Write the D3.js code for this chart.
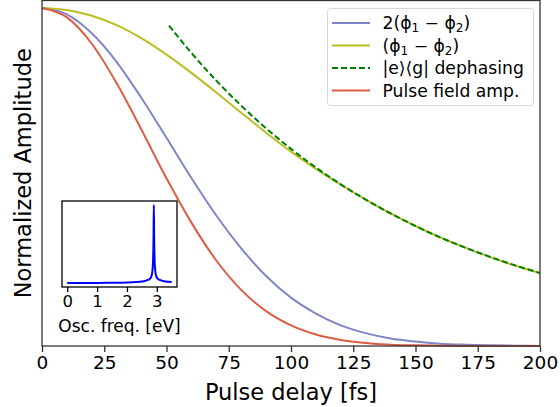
<!DOCTYPE html>
<html>
<head>
<meta charset="utf-8">
<script src="https://cdn.jsdelivr.net/npm/d3@7"></script>
<style>
  body { margin: 0; background: #fff; }
  svg { display: block; font-family: "DejaVu Sans", sans-serif; }
</style>
</head>
<body>
<div class="canvas"></div>
<script>
const canvasWidth = 560;
const canvasHeight = 407;
const margin = { top: 0.5, left: 42, bottom: 61, right: 20 };
const graphWidth = canvasWidth - margin.left - margin.right;
const graphHeight = canvasHeight - margin.top - margin.bottom;

// pulse delay grid [fs]
const delay = [0, 10, 20, 30, 40, 50, 60, 70, 80, 90, 100, 110, 120, 130, 140, 150, 160, 170, 180, 190, 200];
const phaseDouble = [1, 0.981, 0.925, 0.840, 0.733, 0.616, 0.497, 0.386, 0.289, 0.207, 0.143, 0.096, 0.061, 0.038, 0.022, 0.013, 0.007, 0.004, 0.002, 0.001, 0];
const phaseSingle = [1, 0.994, 0.977, 0.949, 0.910, 0.862, 0.808, 0.750, 0.690, 0.631, 0.575, 0.524, 0.477, 0.433, 0.392, 0.355, 0.321, 0.291, 0.263, 0.238, 0.2155];
const pulseAmp = [1, 0.972, 0.894, 0.777, 0.639, 0.496, 0.365, 0.253, 0.166, 0.103, 0.061, 0.034, 0.018, 0.009, 0.004, 0.002, 0.001, 0, 0, 0, 0];

// dephasing fit only drawn from ~51 fs
const dephDelay = [51, 60, 70, 80, 90, 100, 110, 120, 130, 140, 150, 160, 170, 180, 190, 200];
const dephasing = [0.948, 0.867, 0.785, 0.711, 0.644, 0.583, 0.528, 0.478, 0.433, 0.392, 0.355, 0.321, 0.291, 0.2635, 0.2385, 0.216];

const xTicks = [0, 25, 50, 75, 100, 125, 150, 175, 200];

// inset spectrum
const oscFreq = [0, 0.5, 1, 1.5, 2, 2.3, 2.5, 2.6, 2.7, 2.75, 2.8, 2.84, 2.87, 2.89, 2.9, 2.91, 2.93, 2.96, 3.0, 3.05, 3.1, 3.2, 3.3, 3.4, 3.5];
const spectrum = [0, 0.001, 0.002, 0.004, 0.008, 0.013, 0.02, 0.027, 0.04, 0.05, 0.07, 0.12, 0.25, 0.6, 1.0, 0.6, 0.25, 0.12, 0.07, 0.05, 0.04, 0.027, 0.02, 0.016, 0.013];
const freqTicks = [0, 1, 2, 3];

const legendNames = ['phaseDouble', 'phaseSingle', 'dephasing', 'pulseAmp'];
const colors = { phaseDouble: '#7f86c6', phaseSingle: '#bcbd22', dephasing: '#008000', pulseAmp: '#dc5d43' };

const svg = d3.select('.canvas')
	.append('svg')
	.attr('width', canvasWidth)
	.attr('height', canvasHeight);

const graph = svg.append('g')
	.attr('transform', `translate(${margin.left},${margin.top})`);

const x = d3.scaleLinear().domain([0, 200]).range([0, graphWidth]);
const y = d3.scaleLinear().domain([0, 1.022]).range([graphHeight, 0]);

const line = (xs, ys) => d3.line()
	.x((d, i) => x(xs[i]))
	.y(d => y(d))
	.curve(d3.curveMonotoneX)(ys);

graph.append('path').attr('d', line(delay, phaseDouble))
	.attr('fill', 'none').attr('stroke', colors.phaseDouble).attr('stroke-width', 2);
graph.append('path').attr('d', line(delay, phaseSingle))
	.attr('fill', 'none').attr('stroke', colors.phaseSingle).attr('stroke-width', 2);
graph.append('path').attr('d', line(dephDelay, dephasing))
	.attr('fill', 'none').attr('stroke', colors.dephasing).attr('stroke-width', 2)
	.attr('stroke-dasharray', '6,3');
graph.append('path').attr('d', line(delay, pulseAmp))
	.attr('fill', 'none').attr('stroke', colors.pulseAmp).attr('stroke-width', 2);

// frame
graph.append('rect')
	.attr('width', graphWidth).attr('height', graphHeight)
	.attr('fill', 'none').attr('stroke', '#333').attr('stroke-width', 1.3);

const xAxisGroup = graph.append('g')
	.attr('transform', `translate(0,${graphHeight})`)
	.call(d3.axisBottom(x).tickValues(xTicks).tickSize(6).tickPadding(4));
xAxisGroup.select('.domain').remove();
xAxisGroup.selectAll('line').attr('stroke', '#333').attr('stroke-width', 1.3);
xAxisGroup.selectAll('text')
	.attr('font-size', '18.5px')
	.attr('font-family', 'DejaVu Sans')
	.attr('fill', '#000');

svg.append('text')
	.attr('x', margin.left + graphWidth / 2)
	.attr('y', 400)
	.attr('text-anchor', 'middle')
	.attr('font-size', '22.5px')
	.text('Pulse delay [fs]');

svg.append('text')
	.attr('transform', `translate(31,${margin.top + graphHeight / 2}) rotate(-90)`)
	.attr('text-anchor', 'middle')
	.attr('font-size', '22.5px')
	.text('Normalized Amplitude');

// legend
const legend = svg.append('g');
legend.append('rect')
	.attr('x', 327.5).attr('y', 8.5)
	.attr('width', 206).attr('height', 97)
	.attr('rx', 3)
	.attr('fill', 'rgba(255,255,255,0.8)')
	.attr('stroke', '#d6d6d6');

const rowY = [23, 45.5, 68, 90.5];
legendNames.forEach((name, i) => {
	const l = legend.append('line')
		.attr('x1', 332).attr('x2', 370)
		.attr('y1', rowY[i]).attr('y2', rowY[i])
		.attr('stroke', colors[name]).attr('stroke-width', 2);
	if (name === 'dephasing') l.attr('stroke-dasharray', '6,3');
});

const labelText = legend.selectAll('text.lab')
	.data(rowY)
	.enter()
	.append('text')
	.attr('class', 'lab')
	.attr('x', 382.5)
	.attr('y', d => d + 6)
	.attr('font-size', '17.2px');

const sub = (t, s) => t.append('tspan').attr('font-size', '12px').attr('dy', 3).text(s);
const back = (t, s) => t.append('tspan').attr('dy', -3).text(s);

let t = d3.select(labelText.nodes()[0]);
t.append('tspan').text('2(ϕ'); sub(t, '1'); back(t, ' − ϕ'); sub(t, '2'); back(t, ')');
t = d3.select(labelText.nodes()[1]);
t.append('tspan').text('(ϕ'); sub(t, '1'); back(t, ' − ϕ'); sub(t, '2'); back(t, ')');
d3.select(labelText.nodes()[2]).text('|e⟩⟨g| dephasing');
d3.select(labelText.nodes()[3]).text('Pulse field amp.');

// inset
const inset = { left: 62, top: 201, width: 115, height: 86 };
const ix = d3.scaleLinear().domain([-0.175, 3.675]).range([0, inset.width]);
const iy = d3.scaleLinear().domain([-0.05, 1.05]).range([inset.height, 0]);
const insetG = svg.append('g')
	.attr('transform', `translate(${inset.left},${inset.top})`);
insetG.append('rect')
	.attr('width', inset.width).attr('height', inset.height)
	.attr('fill', '#fff').attr('stroke', '#000').attr('stroke-width', 1.3);
insetG.append('path')
	.attr('d', d3.line().x((d, i) => ix(oscFreq[i])).y(d => iy(d)).curve(d3.curveMonotoneX)(spectrum))
	.attr('fill', 'none').attr('stroke', '#0000ff').attr('stroke-width', 2);
const insetAxis = insetG.append('g')
	.attr('transform', `translate(0,${inset.height})`)
	.call(d3.axisBottom(ix).tickValues(freqTicks).tickFormat(d3.format('d')).tickSize(5).tickPadding(3));
insetAxis.select('.domain').remove();
insetAxis.selectAll('line').attr('stroke', '#000').attr('stroke-width', 1.3);
insetAxis.selectAll('text')
	.attr('font-size', '16.5px')
	.attr('font-family', 'DejaVu Sans')
	.attr('fill', '#000');
insetG.append('text')
	.attr('x', inset.width / 2)
	.attr('y', 131)
	.attr('text-anchor', 'middle')
	.attr('font-size', '17px')
	.text('Osc. freq. [eV]');
</script>
</body>
</html>
